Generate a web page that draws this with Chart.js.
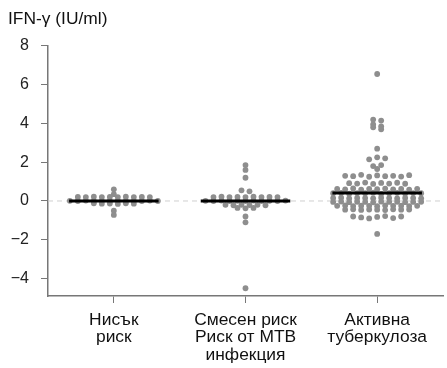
<!DOCTYPE html>
<html>
<head>
<meta charset="utf-8">
<script src="https://cdn.jsdelivr.net/npm/chart.js@4"></script>
<style>
  html, body { margin: 0; padding: 0; background: #fff; }
  #wrap { width: 447px; height: 368px; }
</style>
</head>
<body>
<div id="wrap"><canvas id="chart"></canvas></div>
<script>
// IFN-γ response by risk group: dot rows per group with a median bar.

const categories = [
  ['Нисък', 'риск'],
  ['Смесен риск', 'Риск от МТВ', 'инфекция'],
  ['Активна', 'туберкулоза'],
];

const lowRisk = [
  0.6, 0.35,
  0.21, 0.2, 0.22, 0.2, 0.21, 0.2, 0.22, 0.2, 0.21, 0.2,
  0.01, 0, 0.02, 0, 0.01, 0, 0.02, 0, 0.01, 0, 0.02, 0,
  -0.12, -0.14, -0.13, -0.15, -0.12, -0.14,
  -0.5, -0.72,
];

const mixedRisk = [
  1.85, 1.6, 1.2,
  0.55, 0.5,
  0.2, 0.22, 0.2, 0.21, 0.2, 0.22, 0.2, 0.21, 0.2,
  0.01, 0, 0.02, 0, 0.01, 0, 0.02, 0, 0.01, 0, 0.02,
  -0.2, -0.22, -0.2, -0.21, -0.2, -0.22,
  -0.36, -0.38, -0.36,
  -0.8, -1.1, -4.5,
];

const activeTb = [
  6.55,
  4.2, 4.15, 3.95, 3.85, 3.8, 3.7,
  2.7,
  2.15, 2.25, 2.2,
  1.8, 1.85, 1.65,
  1.3, 1.28, 1.35, 1.25, 1.32, 1.28, 1.3, 1.26, 1.33,
  0.92, 0.9, 0.95, 0.88, 0.93, 0.9, 0.94, 0.89,
  0.62, 0.6, 0.65, 0.58, 0.63, 0.61, 0.64, 0.6, 0.62, 0.59, 0.63,
  0.4, 0.42, 0.38, 0.41, 0.4, 0.43, 0.37, 0.4, 0.42, 0.39, 0.41, 0.4,
  0.15, 0.17, 0.13, 0.16, 0.15, 0.14, 0.17, 0.15, 0.13, 0.16, 0.15, 0.14,
  -0.05, -0.03, -0.06, -0.04, -0.05, -0.07, -0.03, -0.05, -0.04, -0.06, -0.05, -0.04,
  -0.25, -0.23, -0.26, -0.24, -0.25, -0.27, -0.23, -0.25, -0.24, -0.26, -0.25,
  -0.45, -0.43, -0.46, -0.44, -0.45, -0.47, -0.43, -0.45, -0.44,
  -0.8, -0.85, -0.9, -0.82, -0.78, -0.88, -0.8,
  -1.7,
];

const groups = [lowRisk, mixedRisk, activeTb];
const medians = [0, 0, 0.41];
const yTicks = [-4, -2, 0, 2, 4, 6, 8];

const FONT = "'Liberation Sans', Arial, sans-serif";
const DOT = '#8e8e8e';
const AXIS = '#777';

// Group values into horizontal rows (values within `band` of the row's top
// value) and spread each row symmetrically around the group centre.
function rowOffsets(values, band, spacing) {
  const idx = values.map((v, i) => i).sort((a, b) => values[b] - values[a] || a - b);
  const rows = [];
  for (const i of idx) {
    const row = rows[rows.length - 1];
    if (row && values[row[0]] - values[i] <= band) row.push(i);
    else rows.push([i]);
  }
  const xs = new Array(values.length).fill(0);
  for (const row of rows) {
    row.sort((a, b) => a - b);
    row.forEach((i, k) => { xs[i] = (k - (row.length - 1) / 2) * spacing; });
  }
  return xs;
}

const dotSets = groups.map((vals, g) => ({
  type: 'scatter',
  data: vals.map((v) => ({ x: g, y: v })),
  backgroundColor: DOT,
  borderWidth: 0,
  pointRadius: 2.9,
  order: 1,
}));

const medianSets = medians.map((m, g) => ({
  type: 'line',
  data: [{ x: g - 0.34, y: m }, { x: g + 0.34, y: m }],
  borderColor: '#000',
  borderWidth: 3,
  pointRadius: 0,
  order: 0,
}));

const zeroLine = {
  type: 'line',
  data: [{ x: -0.5, y: 0 }, { x: 2.5, y: 0 }],
  borderColor: '#cfcfcf',
  borderWidth: 1,
  borderDash: [5, 4],
  pointRadius: 0,
  order: 2,
};

const chart = new Chart(document.getElementById('chart'), {
  type: 'scatter',
  data: { datasets: [zeroLine, ...dotSets, ...medianSets] },
  options: {
    responsive: true,
    maintainAspectRatio: false,
    animation: false,
    layout: { padding: { left: 8, right: 0, top: 0, bottom: 0 } },
    plugins: {
      legend: { display: false },
      tooltip: { enabled: false },
      title: {
        display: true,
        text: 'IFN-γ (IU/ml)',
        align: 'start',
        color: '#111',
        font: { family: FONT, size: 17.4, weight: 'normal', lineHeight: 1.2 },
        padding: { top: 9, bottom: 16 },
      },
    },
    scales: {
      x: {
        type: 'linear',
        min: -0.5,
        max: 2.5,
        afterBuildTicks: (s) => { s.ticks = categories.map((c, i) => ({ value: i })); },
        afterFit: (s) => { s.height = 72; },
        ticks: {
          color: '#111',
          font: { family: FONT, size: 17.4, lineHeight: 1.0 },
          padding: 8.5,
          maxRotation: 0,
          autoSkip: false,
          callback: (v) => categories[v],
        },
        grid: { drawOnChartArea: false, tickColor: AXIS, tickLength: 7, tickWidth: 1 },
        border: { color: AXIS, width: 1.5 },
      },
      y: {
        min: -4.9,
        max: 8,
        afterBuildTicks: (s) => { s.ticks = yTicks.map((v) => ({ value: v })); },
        afterFit: (s) => { s.width = 40; },
        ticks: {
          color: '#222',
          font: { family: FONT, size: 16 },
          padding: 12,
          callback: (v) => (v < 0 ? '\u2212' + Math.abs(v) : String(v)),
        },
        grid: { drawOnChartArea: false, tickColor: AXIS, tickLength: 7, tickWidth: 1 },
        border: { color: AXIS, width: 1.5 },
      },
    },
  },
});

// Dot offsets are laid out in pixels, so wait for the scales to be sized.
const xs = chart.scales.x;
const pxPerX = (xs.right - xs.left) / (xs.max - xs.min);
groups.forEach((vals, g) => {
  const offsets = rowOffsets(vals, 0.12, 8);
  dotSets[g].data = vals.map((v, i) => ({ x: g + offsets[i] / pxPerX, y: v }));
});
chart.update('none');
</script>
</body>
</html>
